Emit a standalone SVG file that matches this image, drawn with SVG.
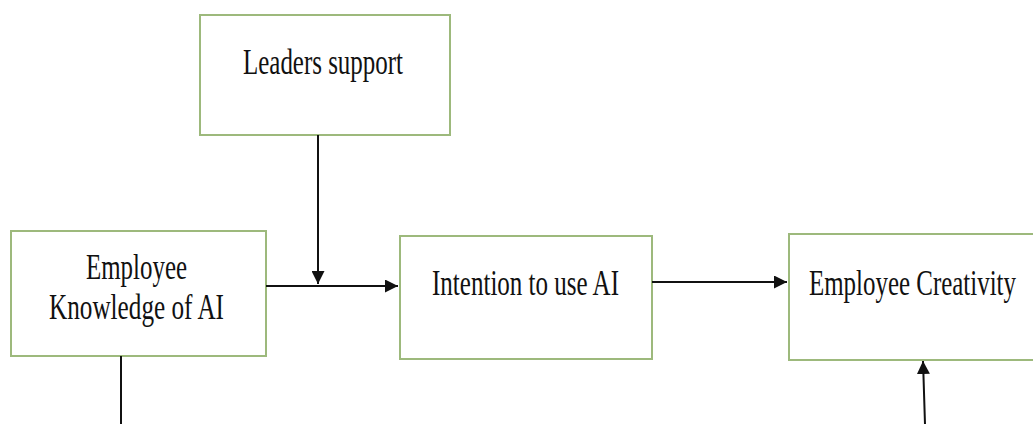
<svg xmlns="http://www.w3.org/2000/svg" width="1033" height="424" viewBox="0 0 1033 424">
  <style>
    .box { fill: #ffffff; stroke: #9db97c; stroke-width: 2; }
    .label { font-family: "Liberation Serif", "Times New Roman", serif; font-size: 35px; fill: #111111; }
    .wire { fill: none; stroke: #111111; stroke-width: 2; }
  </style>
  <defs>
    <marker id="arrow" viewBox="0 0 10 10" refX="10" refY="5" markerWidth="6.5" markerHeight="6.5" markerUnits="strokeWidth" orient="auto">
      <path d="M0,0 L10,5 L0,10 z" fill="#111111"/>
    </marker>
  </defs>
  <rect width="1033" height="424" fill="#ffffff"/>

  <g id="leaders-support">
    <rect class="box" x="200" y="15" width="250" height="120"/>
    <text class="label" x="243" y="74" textLength="160" lengthAdjust="spacingAndGlyphs">Leaders support</text>
  </g>

  <g id="employee-knowledge">
    <rect class="box" x="11" y="231" width="255" height="125"/>
    <text class="label" x="86" y="279" textLength="101" lengthAdjust="spacingAndGlyphs">Employee</text>
    <text class="label" x="49" y="319" textLength="175" lengthAdjust="spacingAndGlyphs">Knowledge of AI</text>
  </g>

  <g id="intention">
    <rect class="box" x="400" y="236" width="252" height="123"/>
    <text class="label" x="432" y="295" textLength="187" lengthAdjust="spacingAndGlyphs">Intention to use AI</text>
  </g>

  <!-- right-hand box runs past the page edge -->
  <g id="creativity">
    <rect class="box" x="789" y="234" width="246" height="126"/>
    <text class="label" x="809" y="295" textLength="207" lengthAdjust="spacingAndGlyphs">Employee Creativity</text>
  </g>

  <g id="connectors">
    <line class="wire" x1="266" y1="286" x2="398" y2="286" marker-end="url(#arrow)"/>
    <line class="wire" x1="318" y1="135" x2="318" y2="284" marker-end="url(#arrow)"/>
    <line class="wire" x1="652" y1="282" x2="787" y2="282" marker-end="url(#arrow)"/>
    <line class="wire" x1="121" y1="356" x2="121" y2="424"/>
    <line class="wire" x1="925" y1="424" x2="923" y2="361" marker-end="url(#arrow)"/>
  </g>
</svg>
